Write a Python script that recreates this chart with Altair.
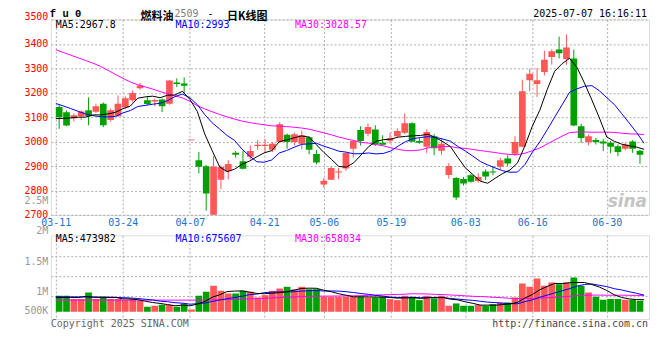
import altair as alt
import pandas as pd

# ---------------- data ----------------
dates = ["03-11","03-12","03-13","03-14","03-17","03-18","03-19","03-20","03-21",
         "03-24","03-25","03-26","03-27","03-28","03-31",
         "04-01","04-02","04-03","04-07","04-08","04-09","04-10","04-11",
         "04-14","04-15","04-16","04-17","04-18","04-21","04-22","04-23","04-24","04-25",
         "04-28","04-29","04-30","05-06","05-07","05-08","05-09",
         "05-12","05-13","05-14","05-15","05-16","05-19","05-20","05-21","05-22","05-23",
         "05-26","05-27","05-28","05-29","05-30","06-03","06-04","06-05","06-06",
         "06-09","06-10","06-11","06-12","06-13","06-16","06-17","06-18","06-19","06-20",
         "06-23","06-24","06-25","06-26","06-27","06-30","07-01","07-02","07-03","07-04","07-07"]

opens = [3142,3120,3096,3104,3128,3122,3155,3088,3104,3140,
         3169,3218,3169,3164,3172,3155,3242,3238,3005,2924,
         2899,2680,2844,2879,2954,2920,2938,2982,2982,2967,
         2998,3028,2998,2991,3018,2949,2824,2844,2873,2890,
         2971,3047,3032,3050,2995,3003,3022,3036,3075,3002,
         2979,3022,2962,2863,2851,2847,2862,2839,2878,2878,
         2897,2931,2950,2979,3251,3236,3285,3346,3377,3338,
         3340,3063,2998,3006,3000,2995,2981,2971,3000,2962]
highs = [3151,3127,3115,3128,3181,3155,3160,3136,3189,3185,
         3210,3240,3185,3176,3176,3252,3259,3263,3005,2957,
         2905,2941,2903,2924,2961,2961,2984,3006,3011,2998,
         3079,3033,3036,3045,3022,2965,2851,2897,2893,2957,
         3006,3063,3074,3067,3026,3036,3054,3115,3079,3014,
         3050,3031,3014,2912,2855,2855,2867,2870,2886,2900,
         2934,2944,3022,3253,3298,3301,3372,3378,3430,3439,
         3377,3073,3029,3015,3011,3002,2988,2995,3006,2965]
lows = [3052,3063,3083,3088,3067,3117,3059,3082,3100,3134,
        3161,3212,3150,3144,3121,3151,3223,3199,3005,2870,
        2717,2650,2805,2846,2934,2886,2927,2966,2954,2957,
        2995,2971,2984,2968,2948,2907,2812,2843,2846,2880,
        2934,2984,3022,2982,2984,2992,3018,3030,2998,2991,
        2952,2944,2946,2848,2761,2820,2832,2832,2843,2862,
        2886,2900,2941,2977,3206,3183,3271,3315,3341,3314,
        3063,2995,2984,2988,2961,2952,2941,2964,2954,2909]
closes = [3100,3066,3108,3123,3104,3145,3067,3128,3155,3177,
          3199,3230,3154,3170,3145,3250,3236,3229,3005,2897,
          2787,2897,2896,2908,2946,2889,2961,2987,2987,2991,
          3071,2998,3030,3026,2967,2914,2840,2892,2878,2953,
          3002,3002,3060,2988,2987,3014,3043,3075,2999,2995,
          3039,2973,2991,2900,2771,2828,2836,2855,2857,2873,
          2924,2910,2998,3206,3278,3251,3335,3370,3362,3385,
          3066,3015,3022,2998,2992,2979,2957,2988,2971,2946]
volumes = [707000,707000,560000,560000,854000,560000,663000,560000,560000,516000,
           560000,486000,221000,265000,309000,309000,221000,368000,103000,707000,
           884000,1149000,928000,810000,810000,928000,884000,633000,737000,928000,
           1031000,1105000,987000,1105000,1002000,1002000,663000,663000,663000,663000,
           663000,663000,633000,633000,663000,560000,516000,707000,663000,516000,
           707000,589000,707000,265000,368000,265000,265000,309000,265000,339000,
           413000,413000,633000,1252000,1105000,1473000,1149000,1296000,1223000,1296000,
           1518000,1149000,854000,663000,530000,560000,560000,530000,530000,486000]

# moving-average values before a full window exists
ma5_head = [3094, 3095, 3097, 3100]
ma10_head = [3156, 3146, 3135, 3124, 3113, 3106, 3102, 3101, 3103]
ma30_head = [3376, 3365, 3354, 3343, 3332, 3321, 3308, 3292, 3275, 3259,
             3244, 3233, 3224, 3215, 3205, 3196, 3187, 3179, 3165, 3147,
             3134, 3122, 3111, 3101, 3092, 3084, 3078, 3073, 3069]
vma5_head = [633000, 633000, 633000, 633000]
vma10_head = [663000, 663000, 660000, 658000, 655000, 650000, 645000, 640000, 635000]
vma30_head = [516000]*20 + [520000, 525000, 530000, 540000, 550000, 560000, 570000, 580000, 590000]

label_dates = ["03-11","03-24","04-07","04-21","05-06","05-19","06-03","06-16","06-30"]
price_ticks = [2700, 2800, 2900, 3000, 3100, 3200, 3300, 3400, 3500]

# ---------------- styling ----------------
RED = "#FF5656"
GREEN = "#00A000"
GRID = "#ADADAD"
DATE_BLUE = "#1A74CC"
MONO = "DejaVu Sans Mono"
CJK = "Noto Sans CJK SC"

n = len(dates)

def padded(head):
    return head + [None] * (n - len(head))

df = pd.DataFrame({
    "i": list(range(n)), "date": dates,
    "o": opens, "h": highs, "l": lows, "c": closes, "v": volumes,
    "ma5h": padded(ma5_head), "ma10h": padded(ma10_head), "ma30h": padded(ma30_head),
    "vma5h": padded(vma5_head), "vma10h": padded(vma10_head), "vma30h": padded(vma30_head),
})

tick_vals = [dates.index(d) * n / (n - 1) for d in label_dates]
label_expr = " : ".join(
    f"abs(datum.value - {v:.6f}) < 0.01 ? '{d}'" for v, d in zip(tick_vals, label_dates)
) + " : ''"

xscale = alt.Scale(domain=[0, n], nice=False, zero=False)
x_axis_price = alt.Axis(values=tick_vals, labelExpr=label_expr, grid=True, gridColor=GRID,
                        gridDash=[2, 2], ticks=False, domain=False, labelColor=DATE_BLUE,
                        labelFont=MONO, labelFontSize=10, labelPadding=3, labelFlush=False,
                        labelOverlap=False, title=None)
x_axis_vol = alt.Axis(values=tick_vals, labels=False, grid=True, gridColor=GRID,
                      gridDash=[2, 2], ticks=False, domain=False, title=None)

P25 = 2757  # where the stray "2.5M" label sits
yscale_price = alt.Scale(domain=[2700, 3500], nice=False, zero=False)
y_axis_price = alt.Axis(
    values=price_ticks + [P25],
    labelExpr=f"datum.value == {P25} ? '2.5M' : datum.label",
    labelColor={"condition": {"test": f"datum.value == {P25}", "value": "#999999"}, "value": "#FF0000"},
    gridOpacity={"condition": {"test": f"datum.value == {P25}", "value": 0}, "value": 1},
    labelBaseline={"condition": {"test": "datum.value == 3500", "value": "alphabetic"}, "value": "middle"},
    grid=True, gridColor=GRID, gridDash=[2, 2], ticks=False, domain=False,
    labelFont=MONO, labelFontSize=10, labelPadding=3, labelOverlap=False, title=None, format="d")

vol_labels = {44000: "500K", 897000: "1M", 2223000: "1.5M", 3390000: "2M"}
vol_grid = [694000, 1578000, 2462000]
yscale_vol = alt.Scale(domain=[-323000, 3390000], nice=False, zero=False)
vol_label_expr = " : ".join(f"datum.value == {k} ? '{t}'" for k, t in vol_labels.items()) + " : ''"
y_axis_vol = alt.Axis(
    values=sorted(list(vol_labels.keys()) + vol_grid),
    labelExpr=vol_label_expr,
    gridOpacity={"condition": {"test": " || ".join(f"datum.value == {g}" for g in vol_grid), "value": 1}, "value": 0},
    labelBaseline={"condition": {"test": "datum.value == 3390000", "value": "bottom"}, "value": "middle"},
    labelColor="#999999", grid=True, gridColor=GRID, gridDash=[2, 2], ticks=False, domain=False,
    labelFont=MONO, labelFontSize=10, labelPadding=3, labelOverlap=False, title=None)

color_cond = alt.condition("datum.c >= datum.o", alt.value(RED), alt.value(GREEN))

srt = [alt.SortField("i", order="ascending")]
base = (alt.Chart(df)
        .transform_calculate(
            xc="datum.i + 0.45",
            xl=f"datum.i * {n} / {n - 1}",
            lo="min(datum.o, datum.c)",
            hi="max(max(datum.o, datum.c), min(datum.o, datum.c) + 4)",
            vhi="datum.v")
        .transform_window(ma5w="mean(c)", frame=[-4, 0], sort=srt)
        .transform_window(ma10w="mean(c)", frame=[-9, 0], sort=srt)
        .transform_window(ma30w="mean(c)", frame=[-29, 0], sort=srt)
        .transform_window(vma5w="mean(v)", frame=[-4, 0], sort=srt)
        .transform_window(vma10w="mean(v)", frame=[-9, 0], sort=srt)
        .transform_window(vma30w="mean(v)", frame=[-29, 0], sort=srt)
        .transform_calculate(
            ma5="isValid(datum.ma5h) ? datum.ma5h : datum.ma5w",
            ma10="isValid(datum.ma10h) ? datum.ma10h : datum.ma10w",
            ma30="isValid(datum.ma30h) ? datum.ma30h : datum.ma30w",
            vma5="isValid(datum.vma5h) ? datum.vma5h : datum.vma5w",
            vma10="isValid(datum.vma10h) ? datum.vma10h : datum.vma10w",
            vma30="isValid(datum.vma30h) ? datum.vma30h : datum.vma30w"))


def X(field, axis):
    return alt.X(f"{field}:Q", scale=xscale, axis=axis)


def txt(text, x, y, color="black", size=10, font=MONO, align="left", baseline="middle",
        weight="normal", style="normal"):
    return alt.Chart(pd.DataFrame({"t": [text]})).mark_text(
        align=align, baseline=baseline, font=font, fontSize=size, color=color,
        fontWeight=weight, fontStyle=style).encode(text="t:N", x=alt.value(x), y=alt.value(y))


def anchor(x, y):
    return alt.Chart(pd.DataFrame({"a": [0]})).mark_rule(opacity=0).encode(
        x=alt.value(x), x2=alt.value(x + 1), y=alt.value(y), y2=alt.value(y + 1))


YP = lambda f: alt.Y(f"{f}:Q", scale=yscale_price, axis=y_axis_price)
wick = base.mark_rule(strokeWidth=1, clip=True).encode(
    x=X("xc", x_axis_price), y=YP("l"), y2="h:Q", color=color_cond)
body = base.mark_bar(width=6.7, clip=True).encode(
    x=X("xc", x_axis_price), y=YP("lo"), y2="hi:Q", color=color_cond)
ma5 = base.mark_line(color="#000000", strokeWidth=1, clip=True).encode(x=X("xl", x_axis_price), y=YP("ma5"))
ma10 = base.mark_line(color="#0000FF", strokeWidth=1, clip=True).encode(x=X("xl", x_axis_price), y=YP("ma10"))
ma30 = base.mark_line(color="#FF00FF", strokeWidth=1, clip=True).encode(x=X("xl", x_axis_price), y=YP("ma30"))

price = alt.layer(
    wick, body, ma30, ma10, ma5,
    txt("MA5:2967.8", 5, 5.5, "#000000"),
    txt("MA10:2993", 125, 5.5, "#0000FF"),
    txt("MA30:3028.57", 245, 5.5, "#FF00FF"),
    txt("f u 0", -1, -2, "#000000", size=10.5, font="Liberation Mono", baseline="alphabetic", weight="bold"),
    txt("燃料油", 90, 1, "#000000", size=11, font=CJK, baseline="alphabetic", weight="bold"),
    txt("2509", 124, -2, "#808080", size=10, baseline="alphabetic"),
    txt("-", 157, -2, "#000000", size=10, baseline="alphabetic"),
    txt("日K线图", 176.7, 1, "#000000", size=11, font=CJK, baseline="alphabetic", weight="bold"),
    txt("2025-07-07 16:16:11", 598, -2, "#000000", size=10, align="right", baseline="alphabetic"),
    txt("sina", 598, 188, "#C4C4C4", size=17, font="DejaVu Sans", align="right",
        baseline="alphabetic", weight="bold", style="italic"),
    anchor(-30, -10),
).properties(width=600, height=196)

YV = lambda f: alt.Y(f"{f}:Q", scale=yscale_vol, axis=y_axis_vol)
vbar = base.mark_bar(width=6.7, clip=True).encode(
    x=X("xc", x_axis_vol), y=YV("vhi"), y2=alt.datum(0), color=color_cond)
vma5 = base.mark_line(color="#000000", strokeWidth=1, clip=True).encode(x=X("xl", x_axis_vol), y=YV("vma5"))
vma10 = base.mark_line(color="#0000FF", strokeWidth=1, clip=True).encode(x=X("xl", x_axis_vol), y=YV("vma10"))
vma30 = base.mark_line(color="#FF00FF", strokeWidth=1, clip=True).encode(x=X("xl", x_axis_vol), y=YV("vma30"))

volume = alt.layer(
    vbar, vma30, vma10, vma5,
    txt("MA5:473982", 5, 4, "#000000"),
    txt("MA10:675607", 125, 4, "#0000FF"),
    txt("MA30:658034", 245, 4, "#FF00FF"),
    txt("Copyright 2025 SINA.COM", 0, 89, "#666666"),
    txt("http://finance.sina.com.cn", 599, 89, "#444444", align="right"),
).properties(width=600, height=84)

chart = alt.vconcat(
    price, volume, spacing=20.5, bounds="flush",
    padding={"left": 12, "top": 0, "right": 2, "bottom": 2},
).configure_view(stroke="#9A9A9A", strokeWidth=1.5).configure(background="white")

chart.save("out.html", embed_options={"renderer": "svg", "actions": False})
